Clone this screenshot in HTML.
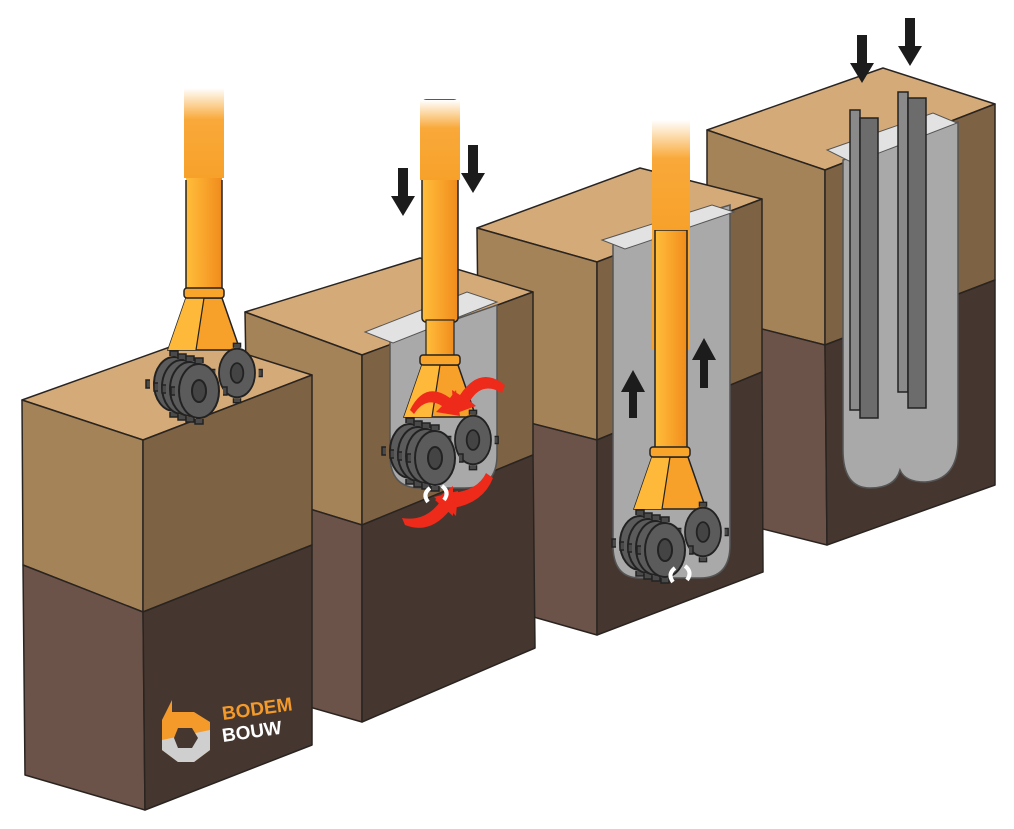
<!DOCTYPE html>
<html><head><meta charset="utf-8"><style>
html,body{margin:0;padding:0;background:#fff;}
svg{display:block;}
</style></head><body>
<svg width="1014" height="829" viewBox="0 0 1014 829" xmlns="http://www.w3.org/2000/svg">
<defs>
<linearGradient id="fade" x1="0" y1="0" x2="0" y2="1">
<stop offset="0" stop-color="#fff" stop-opacity="1"/>
<stop offset="0.35" stop-color="#f9a93a" stop-opacity="1"/>
<stop offset="1" stop-color="#f7a12a"/>
</linearGradient>
<linearGradient id="shaft" x1="0" y1="0" x2="1" y2="0">
<stop offset="0" stop-color="#ffbe3a"/><stop offset="0.5" stop-color="#f9a52c"/><stop offset="1" stop-color="#f08c1c"/>
</linearGradient>
<g id="wheel">
<path d="M-24,-4 l-4,0 0,8 4,0 M24,-4 l4,0 0,8 -4,0 M-4,-28 l0,-5 8,0 0,5 M-4,28 l0,5 8,0 0,-5" fill="#4a4a4a" stroke="#222" stroke-width="1.5"/>
<ellipse rx="20" ry="27" fill="#5b5b5b" stroke="#222" stroke-width="2"/>
<ellipse rx="7" ry="11" fill="#444" stroke="#222" stroke-width="2"/>
</g>
<g id="tool">
<polygon points="-18,10 18,10 36,62 -36,62" fill="#f7a12a" stroke="#222" stroke-width="1.5"/>
<polygon points="-18,10 0,10 -8,62 -36,62" fill="#ffb93a"/>
<line x1="0" y1="10" x2="-8" y2="62" stroke="#222" stroke-width="1.2"/>
<rect x="-20" y="0" width="40" height="10" rx="3" fill="#f9a52c" stroke="#222" stroke-width="1.5"/>
<g transform="translate(-30,96)"><use href="#wheel"/></g>
<g transform="translate(-22,99)"><use href="#wheel"/></g>
<g transform="translate(-14,101)"><use href="#wheel"/></g>
<g transform="translate(33,85) scale(0.9)"><use href="#wheel"/></g>
<g transform="translate(-5,103)"><use href="#wheel"/></g>
</g>
<g id="down"><polygon points="-5,0 5,0 5,28 12,28 0,48 -12,28 -5,28" fill="#1c1c1c"/></g>
</defs>

<g stroke="#2a2420" stroke-width="1.5" stroke-linejoin="round">
<!-- Block 4 -->
<polygon points="707,130 883,68 995,104 825,170" fill="#d4aa78"/>
<polygon points="707,130 825,170 825,345 707,315" fill="#a58358"/>
<polygon points="707,315 825,345 827,545 707,515" fill="#6c5349"/>
<polygon points="825,170 995,104 995,280 825,345" fill="#7d6243"/>
<polygon points="825,345 995,280 995,485 827,545" fill="#453730"/>
</g>
<!-- block4 hole -->
<path d="M843,160 L958,122 L958,440 Q958,480 925,482 Q905,482 900,470 Q895,488 870,488 Q843,488 843,450 Z" fill="#a9a9a9" stroke="#555" stroke-width="1.5"/>
<polygon points="827,150 933,113 957,123 853,163" fill="#e2e2e2" stroke="#555" stroke-width="1"/>
<g stroke="#222" stroke-width="1.5">
<rect x="850" y="110" width="10" height="300" fill="#8a8a8a"/>
<rect x="860" y="118" width="18" height="300" fill="#6c6c6c"/>
<rect x="898" y="92" width="10" height="300" fill="#8a8a8a"/>
<rect x="908" y="98" width="18" height="310" fill="#6c6c6c"/>
</g>
<g transform="translate(862,35)"><use href="#down"/></g>
<g transform="translate(910,18)"><use href="#down"/></g>

<g stroke="#2a2420" stroke-width="1.5" stroke-linejoin="round">
<!-- Block 3 -->
<polygon points="477,228 640,168 762,199 597,262" fill="#d4aa78"/>
<polygon points="477,228 597,262 597,440 479,410" fill="#a58358"/>
<polygon points="479,410 597,440 597,635 481,602" fill="#6c5349"/>
<polygon points="597,262 762,199 762,372 597,440" fill="#7d6243"/>
<polygon points="597,440 762,372 763,572 597,635" fill="#453730"/>
</g>
<path d="M613,240 L730,205 L730,545 Q730,578 700,578 L640,578 Q613,578 613,545 Z" fill="#a9a9a9" stroke="#555" stroke-width="1.5"/>
<polygon points="602,240 712,205 734,212 625,249" fill="#e2e2e2" stroke="#555" stroke-width="1"/>
<rect x="652" y="120" width="38" height="230" fill="url(#fade)"/>
<rect x="655" y="230" width="32" height="220" fill="url(#shaft)" stroke="#222" stroke-width="1.5"/>
<rect x="652" y="120" width="38" height="110" fill="url(#fade)"/>
<g transform="translate(670,447)"><use href="#tool"/></g>
<polygon points="629,418 637,418 637,392 645,392 633,370 621,392 629,392" fill="#1c1c1c"/>
<polygon points="700,388 708,388 708,360 716,360 704,338 692,360 700,360" fill="#1c1c1c"/>
<path d="M675,568 q-8,6 -2,14 M685,566 q8,6 2,14" stroke="#fff" stroke-width="4" fill="none"/>

<g stroke="#2a2420" stroke-width="1.5" stroke-linejoin="round">
<!-- Block 2 -->
<polygon points="245,312 420,258 533,292 362,355" fill="#d4aa78"/>
<polygon points="245,312 362,355 362,525 248,490" fill="#a58358"/>
<polygon points="248,490 362,525 362,722 250,690" fill="#6c5349"/>
<polygon points="362,355 533,292 533,455 362,525" fill="#7d6243"/>
<polygon points="362,525 533,455 535,648 362,722" fill="#453730"/>
</g>
<path d="M390,342 L497,305 L497,455 Q497,488 465,488 L420,488 Q390,488 390,455 Z" fill="#a9a9a9" stroke="#555" stroke-width="1.5"/>
<polygon points="365,332 467,292 497,302 393,343" fill="#e2e2e2" stroke="#555" stroke-width="1"/>
<rect x="422" y="100" width="36" height="222" rx="4" fill="url(#shaft)" stroke="#222" stroke-width="1.5"/>
<rect x="420" y="100" width="40" height="80" fill="url(#fade)"/>
<rect x="426" y="320" width="28" height="36" fill="url(#shaft)" stroke="#222" stroke-width="1.2"/>
<g transform="translate(440,355)"><use href="#tool"/></g>
<g transform="translate(403,168)"><use href="#down"/></g>
<g transform="translate(473,145)"><use href="#down"/></g>
<g fill="#ee2a1a">
<path d="M410,410 q15,-30 40,-12 l6,-8 4,26 -24,-4 6,-6 q-16,-10 -28,8 Z"/>
<path d="M505,385 q-25,-20 -45,10 l-8,-5 2,24 22,-8 -6,-5 q12,-20 32,-8 Z"/>
<path d="M405,525 q25,10 45,-15 l6,6 2,-25 -24,6 6,5 q-15,20 -38,16 Z"/>
<path d="M493,478 q-10,25 -40,30 l0,8 -18,-16 18,-14 0,7 q25,-3 33,-20 Z"/>
</g>
<path d="M430,488 q-8,6 -2,14 M442,486 q8,6 2,14" stroke="#fff" stroke-width="4" fill="none"/>

<g stroke="#2a2420" stroke-width="1.5" stroke-linejoin="round">
<!-- Block 1 -->
<polygon points="22,400 195,338 312,375 143,440" fill="#d4aa78"/>
<polygon points="22,400 143,440 143,612 23,565" fill="#a58358"/>
<polygon points="23,565 143,612 145,810 25,775" fill="#6c5349"/>
<polygon points="143,440 312,375 312,545 143,612" fill="#7d6243"/>
<polygon points="143,612 312,545 312,745 145,810" fill="#453730"/>
</g>
<rect x="186" y="90" width="36" height="200" fill="url(#shaft)"/>
<rect x="184" y="88" width="40" height="90" fill="url(#fade)"/>
<line x1="186" y1="180" x2="186" y2="290" stroke="#222" stroke-width="1.5"/>
<line x1="222" y1="180" x2="222" y2="290" stroke="#222" stroke-width="1.5"/>
<g transform="translate(204,288)"><use href="#tool"/></g>

<!-- logo -->
<g transform="translate(162,700)">
<path d="M0,20 L10,0 L10,12 L32,12 L48,22 L48,50 L32,62 L16,62 L0,50 Z" fill="#f39a2a"/>
<path d="M0,40 L48,30 L48,50 L32,62 L16,62 L0,50 Z" fill="#cfcfcf"/>
<polygon points="16,28 30,28 36,38 30,48 16,48 12,38" fill="#453730"/>
</g>
<text x="223" y="720" font-family="Liberation Sans, sans-serif" font-weight="bold" font-size="19" fill="#f39a2a" transform="rotate(-8 223 720)">BODEM</text>
<text x="223" y="742" font-family="Liberation Sans, sans-serif" font-weight="bold" font-size="19" fill="#ffffff" transform="rotate(-8 223 742)">BOUW</text>
</svg>
</body></html>
